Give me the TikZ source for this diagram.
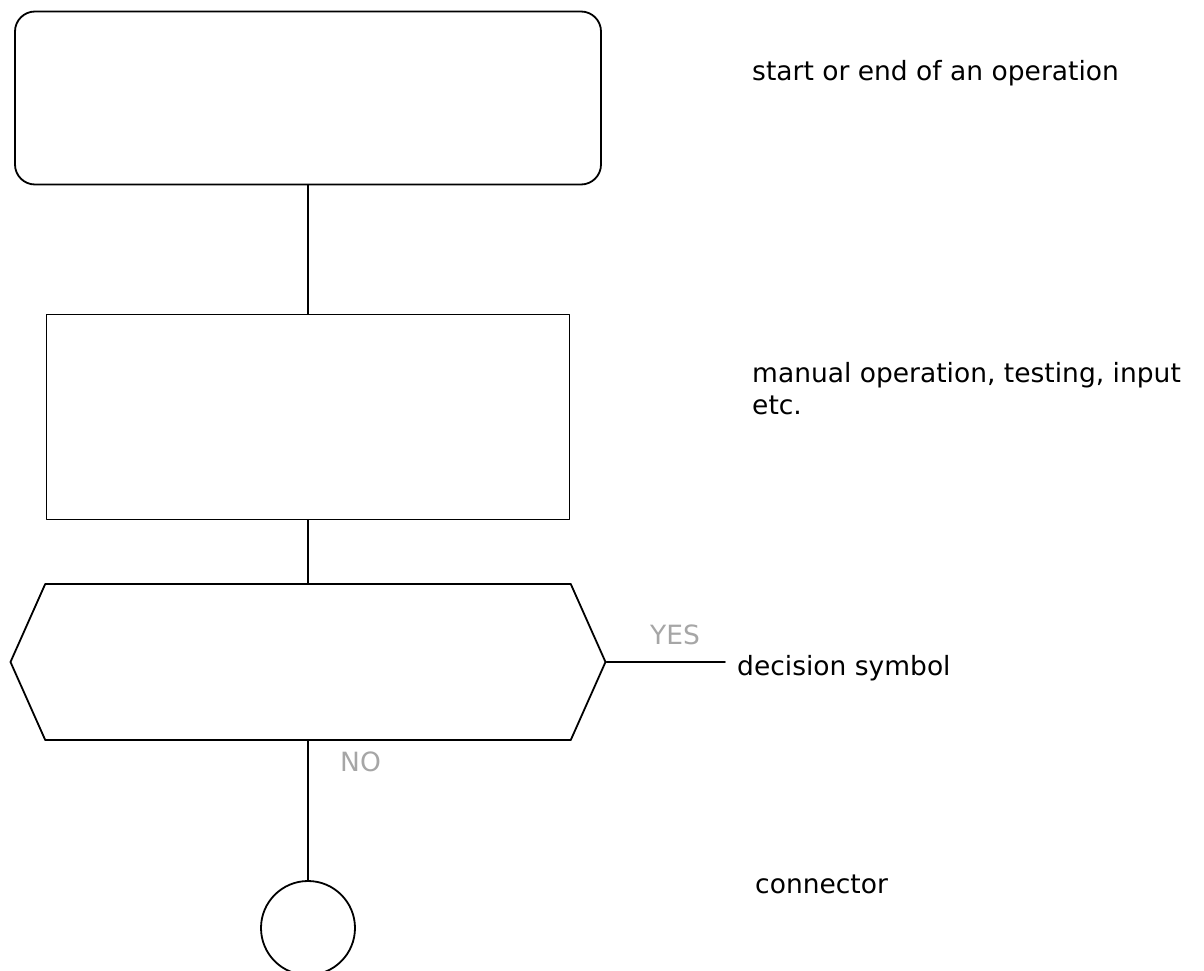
\documentclass[tikz,border=0pt]{standalone}
\usepackage{fontspec}
\setmainfont{DejaVu Sans}
\usetikzlibrary{shapes.symbols}

\begin{document}
\begin{tikzpicture}[x=1pt,y=-1pt,line cap=round,line join=round,
  every node/.style={font=\fontsize{26.5}{32}\selectfont},
  shp/.style={draw,line width=1.8pt,inner sep=0pt},
  lbl/.style={anchor=west,inner sep=0pt,align=left},
  flow/.style={line width=1.8pt}]
\useasboundingbox (0,0) rectangle (1204,971);
\node [shp,rounded corners=20pt,minimum width=586pt,minimum height=173pt] (start) at (308,98) {};
\node [shp,minimum width=523pt,minimum height=205pt] (manual) at (308,417) {};
\node [shp,signal,signal to=west and east,signal pointer angle=132,minimum width=595pt,minimum height=156pt] (decide) at (308,662) {};
\node [shp,circle,minimum size=94pt] (conn) at (308,928) {};
\coordinate (yesend) at (725,662);
\draw [flow] (start) -- (manual) -- (decide) -- (conn);
\draw [flow] (decide.east) -- (yesend);
\node [lbl] (startlbl) at (752,73) {start or end of an operation};
\node [lbl] (manuallbl) at (752,389) {manual operation, testing, input\\etc.};
\node [lbl] (decidelbl) at (737,668) {decision symbol};
\node [lbl] (connlbl) at (755,884) {connector};
\node [lbl,text=gray!70] (yes) at (650,635) {YES};
\node [lbl,text=gray!70] (no) at (340,762) {NO};
\end{tikzpicture}
\end{document}
